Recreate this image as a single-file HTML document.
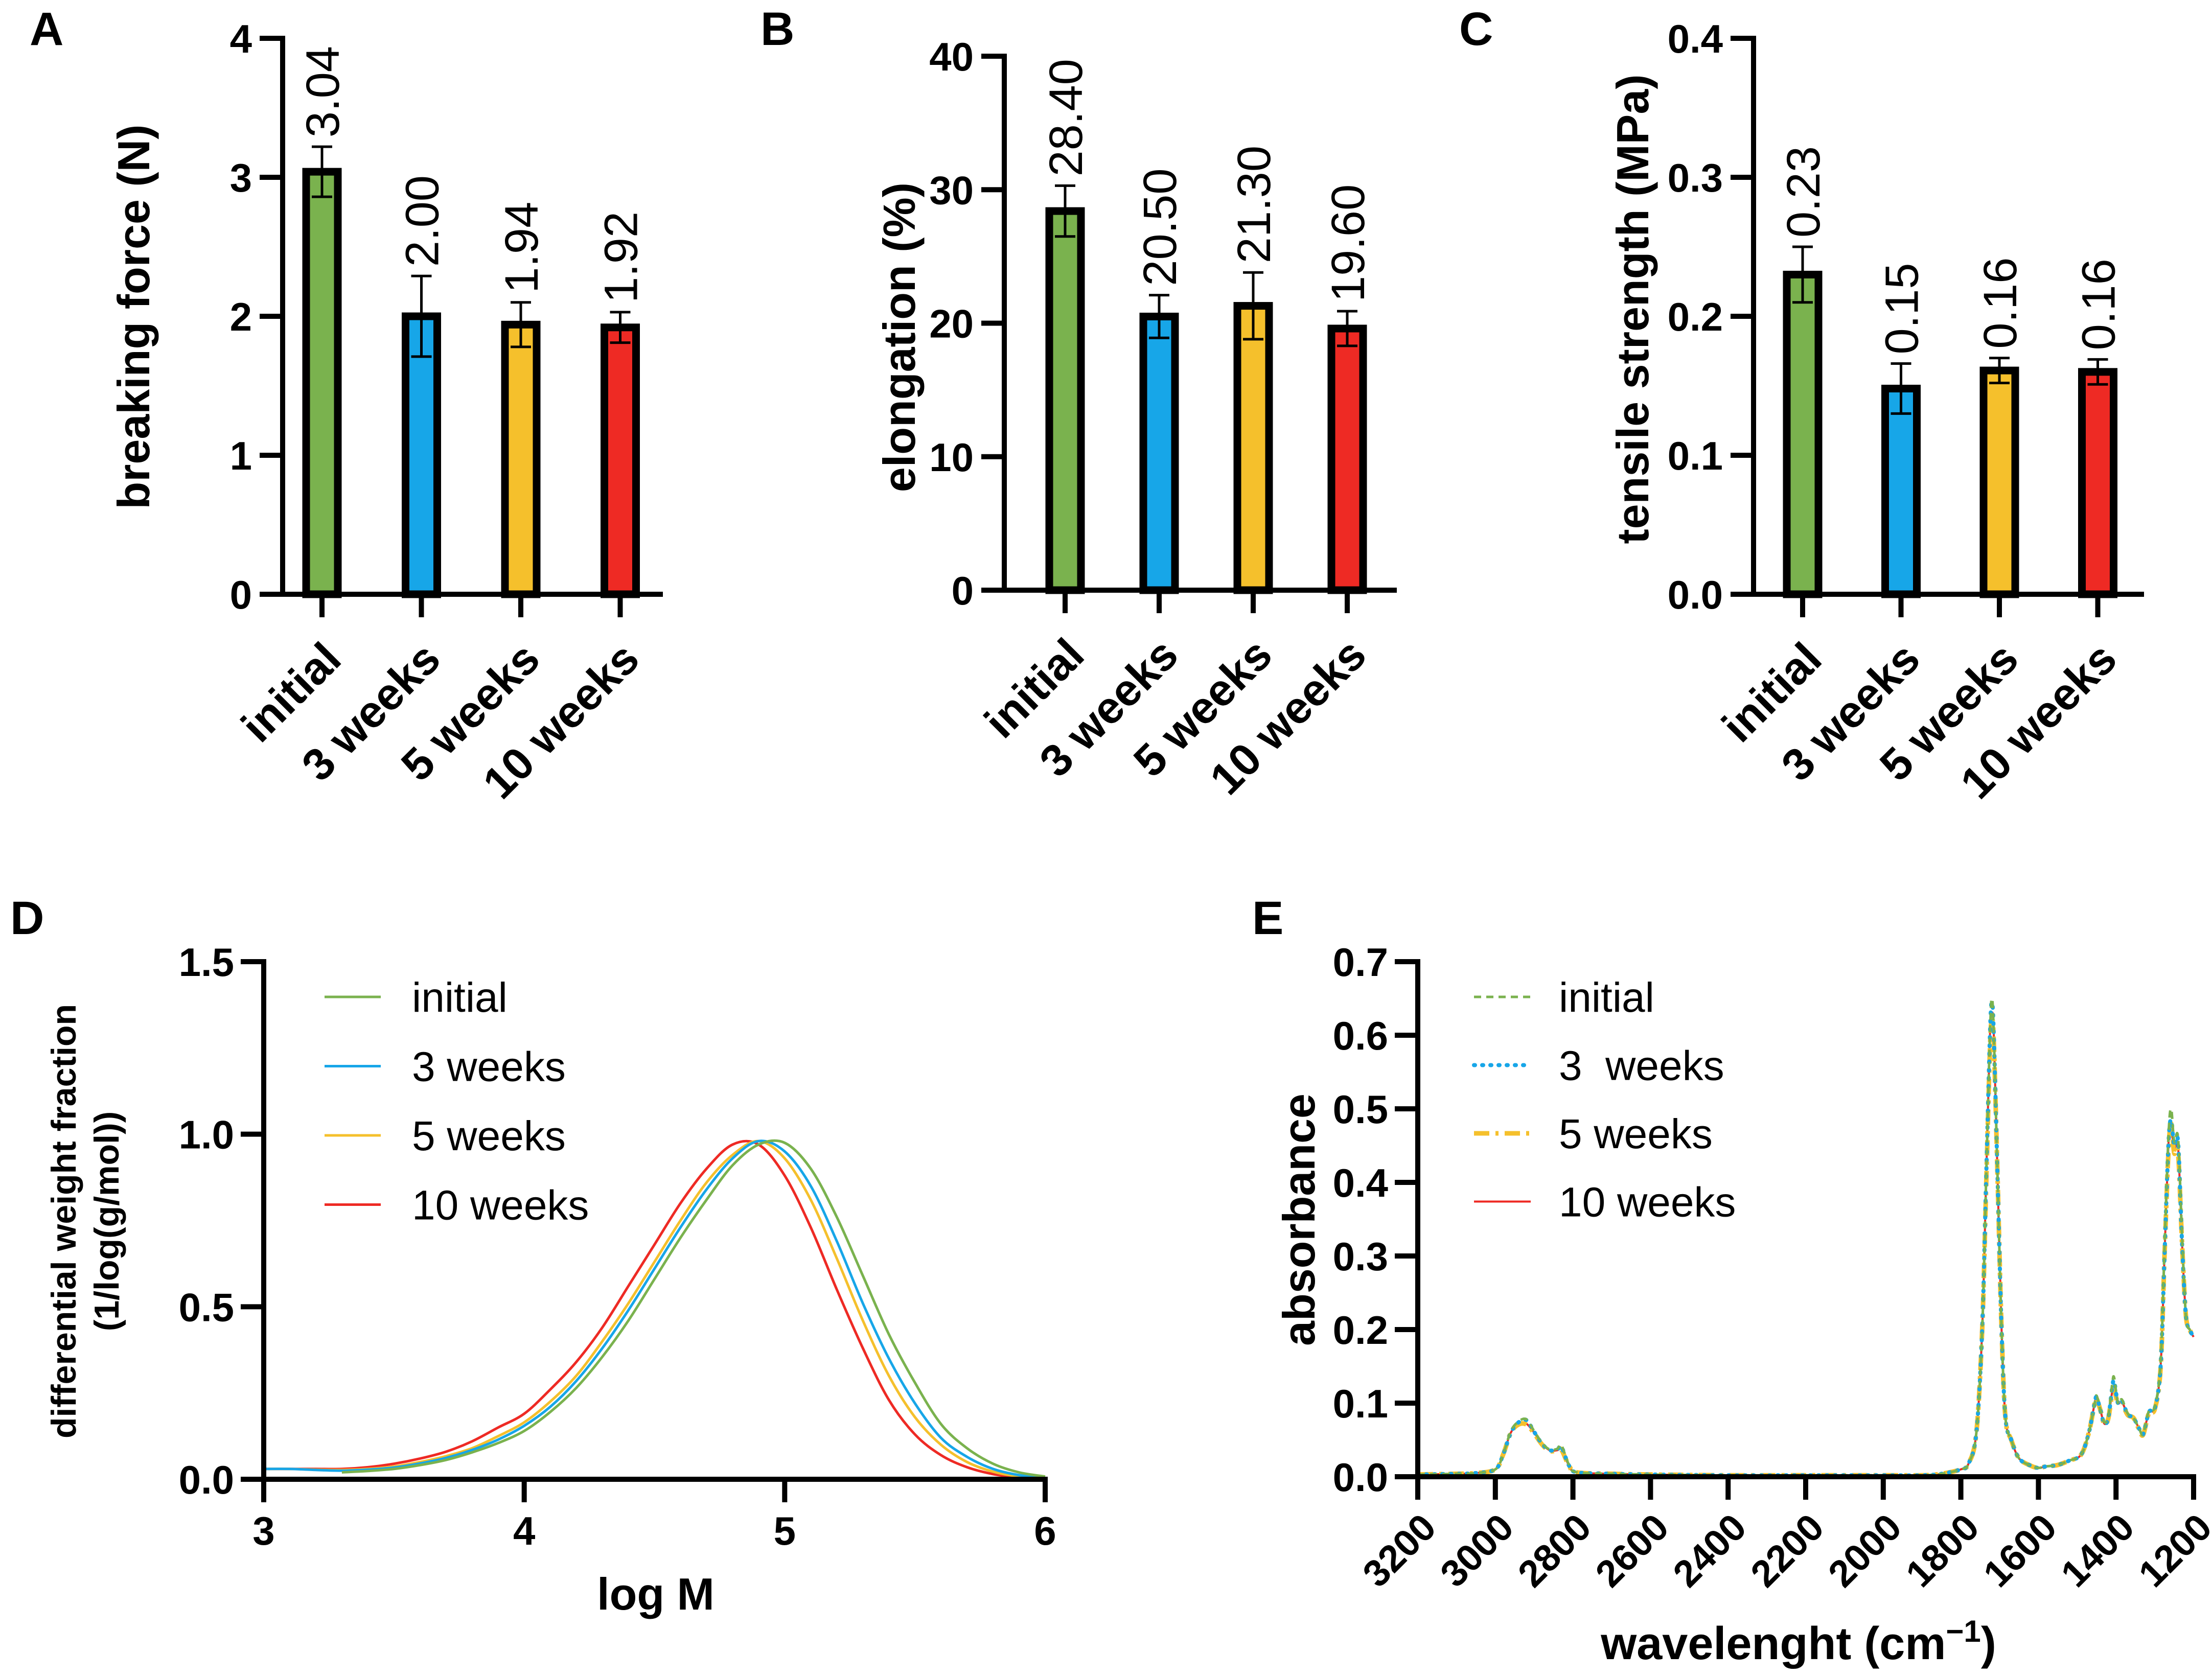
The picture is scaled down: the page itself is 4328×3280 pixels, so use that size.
<!DOCTYPE html>
<html><head><meta charset="utf-8">
<style>
html,body{margin:0;padding:0;background:#fff;}
svg{display:block;font-family:"Liberation Sans",Arial,sans-serif;}
</style></head>
<body>
<svg id="fig" width="4328" height="3280" viewBox="0 0 4328 3280" xmlns="http://www.w3.org/2000/svg">
<rect width="4328" height="3280" fill="#fff"/>
<g font-weight="bold" font-size="92" fill="#000">
<text x="58" y="88">A</text>
<text x="1488" y="88">B</text>
<text x="2855" y="88">C</text>
<text x="20" y="1828">D</text>
<text x="2450" y="1828">E</text>
</g>
</svg>
<script>
// ---- bar chart data ----
const categories = ["initial","3 weeks","5 weeks","10 weeks"];
const barColors = ["#7ab24e","#17a6e8","#f5c02c","#ee2a24"];
const forceValues = [3.04,2.00,1.94,1.92];
const forceErrors = [0.18,0.29,0.16,0.11];
const forceLabels = ["3.04","2.00","1.94","1.92"];
const forceTicks = ["0","1","2","3","4"];
const elongValues = [28.4,20.5,21.3,19.6];
const elongErrors = [1.9,1.6,2.5,1.3];
const elongLabels = ["28.40","20.50","21.30","19.60"];
const elongTicks = ["0","10","20","30","40"];
const tensileValues = [0.23,0.148,0.161,0.160];
const tensileErrors = [0.02,0.018,0.009,0.009];
const tensileLabels = ["0.23","0.15","0.16","0.16"];
const tensileTicks = ["0.0","0.1","0.2","0.3","0.4"];

// ---- GPC data (log M grid 3.0..6.0 step 0.1) ----
const logM = [3.0,3.1,3.2,3.3,3.4,3.5,3.6,3.7,3.8,3.9,4.0,4.1,4.2,4.3,4.4,4.5,4.6,4.7,4.8,4.9,5.0,5.1,5.2,5.3,5.4,5.5,5.6,5.7,5.8,5.9,6.0];
const gpcInitial = [null,null,null,0.02,0.024,0.03,0.041,0.056,0.078,0.105,0.14,0.195,0.265,0.355,0.46,0.58,0.70,0.81,0.91,0.97,0.975,0.90,0.76,0.59,0.42,0.28,0.16,0.09,0.045,0.02,0.008];
const gpc3w = [0.03,0.03,0.027,0.025,0.028,0.034,0.046,0.062,0.085,0.115,0.155,0.21,0.285,0.38,0.49,0.61,0.73,0.84,0.93,0.98,0.95,0.85,0.69,0.51,0.35,0.22,0.12,0.065,0.03,0.012,0.004];
const gpc5w = [0.03,0.03,0.028,0.027,0.03,0.037,0.05,0.067,0.09,0.125,0.165,0.225,0.30,0.40,0.51,0.63,0.75,0.86,0.94,0.98,0.93,0.81,0.64,0.46,0.30,0.18,0.10,0.05,0.022,0.008,0.002];
const gpc10w = [0.03,0.03,0.03,0.03,0.035,0.045,0.06,0.08,0.11,0.15,0.19,0.26,0.34,0.44,0.56,0.68,0.80,0.90,0.97,0.97,0.88,0.73,0.55,0.38,0.23,0.13,0.07,0.035,0.015,0.005,0.0];
const gpcXTicks = ["3","4","5","6"];
const gpcYTicks = ["0.0","0.5","1.0","1.5"];

// ---- FTIR data ----
const wn = [3200,3100,3050,3000,2980,2960,2940,2920,2900,2880,2860,2840,2830,2810,2790,2700,2600,2400,2200,2000,1900,1850,1800,1780,1760,1745,1735,1725,1720,1715,1705,1695,1685,1670,1650,1620,1600,1580,1550,1520,1490,1470,1455,1450,1440,1430,1420,1410,1405,1395,1385,1370,1355,1340,1330,1315,1300,1285,1275,1265,1258,1250,1240,1230,1220,1210,1200];
const absInitial = [.003,.004,.005,.01,.03,.062,.075,.078,.062,.046,.037,.038,.043,.016,.006,.004,.003,.002,.002,.002,.002,.004,.01,.018,.06,.2,.4,.6,.65,.6,.4,.2,.08,.05,.025,.015,.012,.014,.016,.022,.03,.06,.1,.11,.09,.074,.082,.125,.135,.1,.105,.086,.08,.065,.058,.09,.095,.155,.31,.46,.5,.455,.46,.33,.22,.2,.2];
const abs3w = [.003,.004,.005,.01,.03,.06,.074,.077,.061,.045,.036,.037,.041,.015,.006,.004,.003,.002,.002,.002,.002,.004,.01,.018,.06,.2,.4,.6,.645,.6,.4,.2,.08,.05,.025,.015,.012,.014,.016,.022,.03,.06,.1,.108,.09,.072,.08,.12,.13,.1,.103,.085,.08,.065,.058,.088,.093,.15,.3,.45,.485,.45,.455,.32,.22,.2,.19];
const abs5w = [.003,.004,.005,.01,.03,.06,.071,.071,.059,.044,.035,.036,.037,.015,.006,.004,.003,.002,.002,.002,.002,.004,.01,.018,.06,.2,.39,.58,.62,.59,.4,.2,.08,.05,.025,.015,.012,.014,.016,.022,.03,.06,.1,.106,.09,.071,.079,.113,.118,.1,.1,.084,.08,.064,.057,.087,.092,.148,.3,.44,.48,.44,.44,.32,.22,.2,.19];
const abs10w = [.003,.004,.005,.01,.03,.06,.072,.072,.06,.045,.036,.036,.038,.015,.006,.004,.003,.002,.002,.002,.002,.004,.01,.018,.06,.2,.4,.6,.63,.6,.4,.2,.08,.05,.025,.015,.012,.014,.016,.022,.03,.06,.1,.108,.09,.072,.08,.115,.12,.1,.102,.085,.08,.065,.058,.088,.093,.15,.3,.45,.475,.445,.448,.32,.22,.2,.19];
const ftirXTicks = ["3200","3000","2800","2600","2400","2200","2000","1800","1600","1400","1200"];
const ftirYTicks = ["0.0","0.1","0.2","0.3","0.4","0.5","0.6","0.7"];

const NS = "http://www.w3.org/2000/svg";
const svg = document.getElementById("fig");
function mk(tag, attrs, parent){
  const e = document.createElementNS(NS, tag);
  for (const k in attrs) e.setAttribute(k, attrs[k]);
  (parent||svg).appendChild(e);
  return e;
}
function txt(s, attrs, parent){ const t = mk("text", attrs, parent); t.textContent = s; return t; }

function barChart(o){
  const g = mk("g", {});
  
  
  const y = v => o.y0 - (v / o.ymax) * (o.y0 - o.ytop);
  const x = i => o.xc0 + i * o.step;
  const n = o.ticks.length - 1;
  o.ticks.forEach((t, i) => {
    const yy = y(o.ymax * i / n);
    const tk = mk("line", {x1:o.ax-45, x2:o.ax, y1:yy, y2:yy, stroke:"#000","stroke-width":10}, g);
    
    
    const tl = txt(t, {x:o.ax-60, y:yy+28, "text-anchor":"end","font-size":78,"font-weight":"bold"}, g);
    
    
  });
  o.values.forEach((v, i) => {
    const cx = x(i);
    const r = mk("rect", {x:cx-31, y:y(v), width:62, height:o.y0-y(v), fill:barColors[i], stroke:"#000","stroke-width":15}, g);
    
    
    const e = o.errors[i];
    const eg = mk("g", {stroke:"#000","stroke-width":5}, g);
    
    
    mk("line", {x1:cx, x2:cx, y1:y(v-e), y2:y(v+e)}, eg);
    mk("line", {x1:cx-20, x2:cx+20, y1:y(v-e), y2:y(v-e)}, eg);
    mk("line", {x1:cx-20, x2:cx+20, y1:y(v+e), y2:y(v+e)}, eg);
    const vl = txt(o.labels[i], {transform:`translate(${cx+33},${y(v+e)-18}) rotate(-90)`, "font-size":92}, g);
    
    
    const xt = mk("line", {x1:cx, x2:cx, y1:o.y0, y2:o.y0+45, stroke:"#000","stroke-width":10}, g);
    
    
    const cl = txt(categories[i], {transform:`translate(${cx+42},${o.y0+132}) rotate(-45)`, "text-anchor":"end","font-size":88,"font-weight":"bold"}, g);
    
    
  });
  const ya = mk("line", {x1:o.ax, x2:o.ax, y1:o.ytop-5, y2:o.y0+5, stroke:"#000","stroke-width":10}, g);
  
  
  const xa = mk("line", {x1:o.ax-45, x2:o.xend, y1:o.y0, y2:o.y0, stroke:"#000","stroke-width":10}, g);
  
  
  const tt = txt(o.title, {transform:`translate(${o.tx},${o.ty}) rotate(-90)`, "text-anchor":"middle","font-size":88,"font-weight":"bold"}, g);
  
  
}
barChart({name:"breaking-force-chart", ax:553, y0:1163, ytop:75, ymax:4, xc0:630, step:194.5, xend:1297, values:forceValues, errors:forceErrors, labels:forceLabels, ticks:forceTicks, title:"breaking force (N)", tx:292, ty:620});
barChart({name:"elongation-chart", ax:1965, y0:1155, ytop:110, ymax:40, xc0:2084, step:184, xend:2733, values:elongValues, errors:elongErrors, labels:elongLabels, ticks:elongTicks, title:"elongation (%)", tx:1790, ty:660});
barChart({name:"tensile-strength-chart", ax:3431, y0:1163, ytop:75, ymax:0.4, xc0:3527, step:192.5, xend:4195, values:tensileValues, errors:tensileErrors, labels:tensileLabels, ticks:tensileTicks, title:"tensile strength (MPa)", tx:3225, ty:605});

function smoothPath(pts){
  if (pts.length < 2) return "";
  let d = `M${pts[0][0]},${pts[0][1]}`;
  for (let i = 0; i < pts.length - 1; i++){
    const p0 = pts[Math.max(i-1,0)], p1 = pts[i], p2 = pts[i+1], p3 = pts[Math.min(i+2,pts.length-1)];
    const c1x = p1[0] + (p2[0]-p0[0])/6, c1y = p1[1] + (p2[1]-p0[1])/6;
    const c2x = p2[0] - (p3[0]-p1[0])/6, c2y = p2[1] - (p3[1]-p1[1])/6;
    d += ` C${c1x},${c1y} ${c2x},${c2y} ${p2[0]},${p2[1]}`;
  }
  return d;
}

// ---- Panel D ----
(function(){
  const g = mk("g", {});
  
  
  const ax = 516, x1 = 2045, y0 = 2895, ytop = 1882;
  const X = v => ax + (v - 3) / 3 * (x1 - ax);
  const Y = v => y0 - v / 1.5 * (y0 - ytop);
  gpcYTicks.forEach((t, i) => {
    const yy = Y(1.5 * i / (gpcYTicks.length - 1));
    const tk = mk("line", {x1:ax-45, x2:ax, y1:yy, y2:yy, stroke:"#000","stroke-width":10}, g);
    
    
    const tl = txt(t, {x:ax-58, y:yy+28, "text-anchor":"end","font-size":78,"font-weight":"bold"}, g);
    
    
  });
  gpcXTicks.forEach((t, i) => {
    const xx = X(3 + i * 3 / (gpcXTicks.length - 1));
    const tk = mk("line", {x1:xx, x2:xx, y1:y0, y2:y0+45, stroke:"#000","stroke-width":10}, g);
    
    
    const tl = txt(t, {x:xx, y:y0+128, "text-anchor":"middle","font-size":78,"font-weight":"bold"}, g);
    
    
  });
  const series = [[gpcInitial,"#7ab24e","initial"],[gpc3w,"#17a6e8","3 weeks"],[gpc5w,"#f5c02c","5 weeks"],[gpc10w,"#ee2a24","10 weeks"]];
  [3,2,1,0].forEach(k => {
    const [arr, col] = series[k];
    const pts = [];
    arr.forEach((v, i) => { if (v !== null) pts.push([X(logM[i]), Y(v)]); });
    const p = mk("path", {d:smoothPath(pts), fill:"none", stroke:col, "stroke-width":5}, g);
    
    
  });
  series.forEach((s, i) => {
    const ly = 1951 + i * 135.5;
    const lg = mk("g", {}, g);
    
    
    mk("line", {x1:635, x2:745, y1:ly, y2:ly, stroke:s[1], "stroke-width":5}, lg);
    txt(s[2], {x:806, y:ly+29, "font-size":82}, lg);
  });
  const ya = mk("line", {x1:ax, x2:ax, y1:ytop-5, y2:y0+5, stroke:"#000","stroke-width":10}, g);
  
  
  const xa = mk("line", {x1:ax-45, x2:x1+5, y1:y0, y2:y0, stroke:"#000","stroke-width":10}, g);
  
  
  const t1 = txt("differential weight fraction", {transform:"translate(148,2390) rotate(-90)", "text-anchor":"middle","font-size":68,"font-weight":"bold"}, g);
  
  
  const t2 = txt("(1/log(g/mol))", {transform:"translate(232,2390) rotate(-90)", "text-anchor":"middle","font-size":68,"font-weight":"bold"}, g);
  
  
  const xt = txt("log M", {x:1283, y:3150, "text-anchor":"middle","font-size":88,"font-weight":"bold"}, g);
  
  
})();

// ---- Panel E ----
(function(){
  const g = mk("g", {});
  
  
  const ax = 2774, x1 = 4292, y0 = 2890, ytop = 1882;
  const X = v => ax + (3200 - v) / 2000 * (x1 - ax);
  const Y = v => y0 - v / 0.7 * (y0 - ytop);
  ftirYTicks.forEach((t, i) => {
    const yy = Y(0.7 * i / (ftirYTicks.length - 1));
    const tk = mk("line", {x1:ax-45, x2:ax, y1:yy, y2:yy, stroke:"#000","stroke-width":10}, g);
    
    
    const tl = txt(t, {x:ax-58, y:yy+28, "text-anchor":"end","font-size":78,"font-weight":"bold"}, g);
    
    
  });
  ftirXTicks.forEach((t, i) => {
    const xx = X(3200 - i * 200);
    const tk = mk("line", {x1:xx, x2:xx, y1:y0, y2:y0+45, stroke:"#000","stroke-width":10}, g);
    
    
    const tl = txt(t, {transform:`translate(${xx+40},${y0+104}) rotate(-45)`, "text-anchor":"end","font-size":74,"font-weight":"bold"}, g);
    
    
  });
  const series = [
    [abs10w,"#ee2a24","none",4,"10 weeks"],
    [abs5w,"#f5c02c","30 12 6 12",9,"5 weeks"],
    [abs3w,"#17a6e8","2 14",8,"3  weeks"],
    [absInitial,"#7ab24e","14 10",5,"initial"]
  ];
  series.forEach(s => {
    const pts = s[0].map((v, i) => [X(wn[i]), Y(v)]);
    const p = mk("path", {d:smoothPath(pts), fill:"none", stroke:s[1], "stroke-width":s[3], "stroke-dasharray":s[2], "stroke-linecap": s[2]==="2 14" ? "round" : "butt"}, g);
    
    
  });
  [3,2,1,0].forEach((k, i) => {
    const s = series[k];
    const ly = 1951 + i * 133.5;
    const lg = mk("g", {}, g);
    
    
    mk("line", {x1:2884, x2:2995, y1:ly, y2:ly, stroke:s[1], "stroke-width":s[3], "stroke-dasharray":s[2], "stroke-linecap": s[2]==="2 14" ? "round" : "butt"}, lg);
    const t = txt(s[4], {x:3050, y:ly+29, "font-size":82}, lg);
    t.style.whiteSpace = 'pre';
  });
  const ya = mk("line", {x1:ax, x2:ax, y1:ytop-5, y2:y0+5, stroke:"#000","stroke-width":10}, g);
  
  
  const xa = mk("line", {x1:ax-45, x2:x1+5, y1:y0, y2:y0, stroke:"#000","stroke-width":10}, g);
  
  
  const yt = txt("absorbance", {transform:"translate(2572,2387) rotate(-90)", "text-anchor":"middle","font-size":88,"font-weight":"bold"}, g);
  
  
  const xt = mk("text", {x:3519, y:3247, "text-anchor":"middle","font-size":90,"font-weight":"bold"}, g);
  
  
  xt.textContent = "wavelenght (cm";
  const sup = mk("tspan", {dy:-34, "font-size":60}, xt);
  sup.textContent = "−1";
  const cl = mk("tspan", {dy:34}, xt);
  cl.textContent = ")";
})();
</script>
</body></html>
